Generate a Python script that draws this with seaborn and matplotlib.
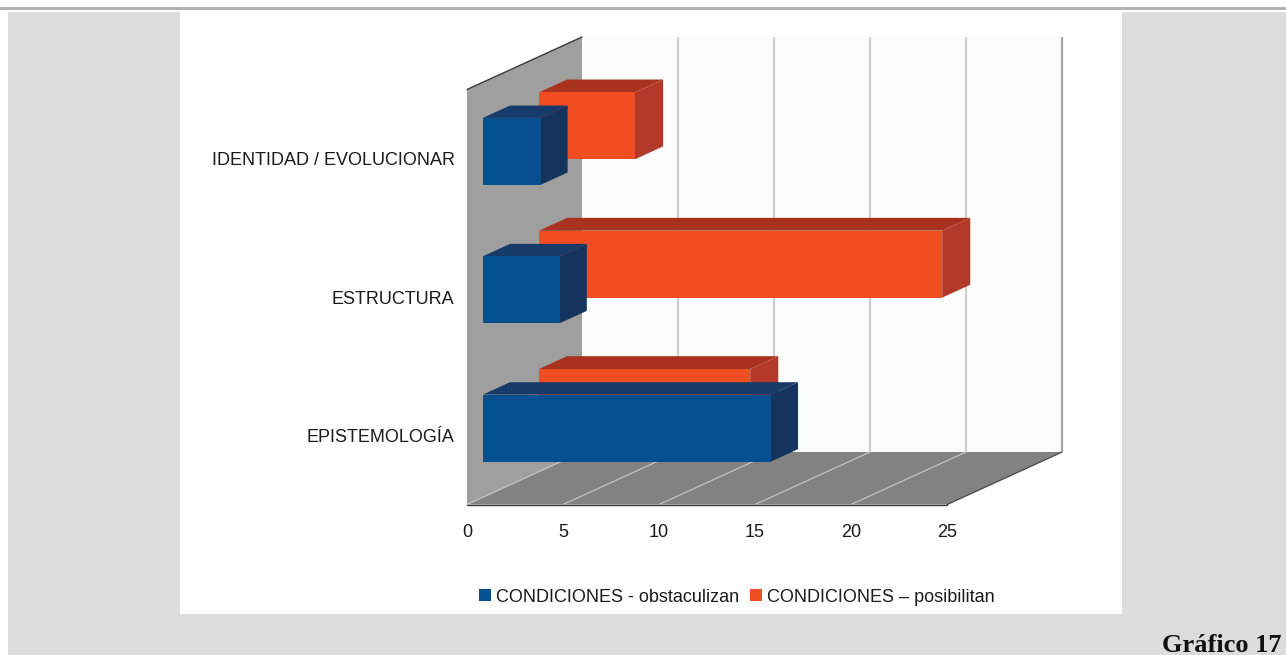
import numpy as np
import pandas as pd
import matplotlib
matplotlib.use("Agg")
import matplotlib.pyplot as plt
from matplotlib.patches import Polygon, Rectangle, Patch
from matplotlib.transforms import Affine2D
import seaborn as sns

# ---- data -------------------------------------------------------------
categorias = ["IDENTIDAD / EVOLUCIONAR", "ESTRUCTURA", "EPISTEMOLOGÍA"]
obstaculizan = [3, 4, 15]
posibilitan = [5, 21, 11]
series_names = ["CONDICIONES - obstaculizan", "CONDICIONES \u2013 posibilitan"]
x_ticks = [0, 5, 10, 15, 20, 25]

# ---- style ------------------------------------------------------------
sns.set_theme(style="white")
plt.rcParams["font.family"] = ["Liberation Sans", "DejaVu Sans"]

W, H = 1286, 655
fig = plt.figure(figsize=(W / 100, H / 100), dpi=100)
fig.patch.set_facecolor("#dcdcdc")

# page frame: white margins, rule at top, white chart panel
def px_rect(x0, y0, x1, y1, color, z=0):
    fig.add_artist(Rectangle((x0 / W, 1 - y1 / H), (x1 - x0) / W, (y1 - y0) / H,
                             transform=fig.transFigure, facecolor=color,
                             edgecolor="none", zorder=z))

px_rect(0, 0, W, 12, "#ffffff")
px_rect(0, 0, 8, H, "#ffffff")
px_rect(0, 7.5, W, 9.5, "#b4b4b4", z=1)
px_rect(180, 12, 1122, 614, "#ffffff")

fig.text(1281 / W, 1 - 652 / H, "Gráfico 17", ha="right", va="baseline",
         fontsize=19, fontweight="bold", family=["Liberation Serif", "DejaVu Serif"],
         color="#111111")

# ---- axes: x = value on front plane, y = category on front plane ------
x0_px, x25_px = 467, 947
top_px, bot_px = 89.5, 504.5
ax = fig.add_axes([x0_px / W, 1 - bot_px / H, (x25_px - x0_px) / W, (bot_px - top_px) / H])
ax.set_facecolor("none")

XMAX = 25
ppu_x = (x25_px - x0_px) / XMAX
ppu_y = (bot_px - top_px) / 3
DX = 115 / ppu_x          # depth offset in value units
DY = -52.5 / ppu_y        # depth offset in category units (axis inverted)

def P(v, c, d):
    return (v + d * DX, c + d * DY)

y_lo, y_hi = -0.5, 2.5

# left wall
ax.add_patch(Polygon([P(0, y_hi, 0), P(0, y_lo, 0), P(0, y_lo, 1), P(0, y_hi, 1)],
                     closed=True, facecolor="#9f9f9f", edgecolor="none", zorder=1, clip_on=False))
# back wall
ax.add_patch(Polygon([P(0, y_lo, 1), P(XMAX, y_lo, 1), P(XMAX, y_hi, 1), P(0, y_hi, 1)],
                     closed=True, facecolor="#fbfcfc", edgecolor="none", zorder=1, clip_on=False))
# floor
ax.add_patch(Polygon([P(0, y_hi, 0), P(XMAX, y_hi, 0), P(XMAX, y_hi, 1), P(0, y_hi, 1)],
                     closed=True, facecolor="#828282", edgecolor="none", zorder=1, clip_on=False))

# grid on back wall and floor
for v in x_ticks:
    if v > 0:
        a, b = P(v, y_lo, 1), P(v, y_hi, 1)
        ax.plot([a[0], b[0]], [a[1], b[1]], color="#a6a6a6" if v == XMAX else "#cfcfcf",
                lw=1.6, zorder=2, clip_on=False, solid_capstyle="butt")
    a, b = P(v, y_hi, 0), P(v, y_hi, 1)
    ax.plot([a[0], b[0]], [a[1], b[1]], color="#c4c4c4", lw=0.9, zorder=2, clip_on=False)

# wall / floor edges
for p, q, col in [(P(0, y_lo, 0), P(0, y_lo, 1), "#3a3a3a"),
                  (P(0, y_hi, 0), P(XMAX, y_hi, 0), "#3a3a3a"),
                  (P(XMAX, y_hi, 0), P(XMAX, y_hi, 1), "#4a4a4a")]:
    ax.plot([p[0], q[0]], [p[1], q[1]], color=col, lw=1.0, zorder=3, clip_on=False)

# ---- bars -------------------------------------------------------------
bar_h = 0.484
layers = [  # drawn back to front: (values, depth start, depth end, colours, base zorder)
    (posibilitan, 0.626, 0.870, "#f04e22", "#a9321f", "#b3392a", 4),
    (obstaculizan, 0.139, 0.374, "#06508f", "#163a69", "#14345d", 7),
]

for vals, d0, d1, c_front, c_top, c_side, z in layers:
    df = pd.DataFrame({"categoria": categorias, "valor": vals})
    n_before = len(ax.patches)
    sns.barplot(data=df, y="categoria", x="valor", order=categorias, orient="h",
                color=c_front, width=bar_h, saturation=1, linewidth=0,
                edgecolor="none", errorbar=None, ax=ax)
    shift = Affine2D().translate(d0 * DX, d0 * DY) + ax.transData
    for bar in ax.patches[n_before:]:
        bar.set_facecolor(c_front)
        bar.set_zorder(z + 1)
        bar.set_clip_on(False)
        bar.set_transform(shift)
        v = bar.get_width()
        c = bar.get_y() + bar.get_height() / 2
        ytop, ybot = c - bar_h / 2, c + bar_h / 2
        top = [P(0, ytop, d0), P(v, ytop, d0), P(v, ytop, d1), P(0, ytop, d1)]
        side = [P(v, ytop, d0), P(v, ybot, d0), P(v, ybot, d1), P(v, ytop, d1)]
        ax.add_patch(Polygon(top, closed=True, facecolor=c_top, edgecolor="none",
                             zorder=z, clip_on=False))
        ax.add_patch(Polygon(side, closed=True, facecolor=c_side, edgecolor="none",
                             zorder=z, clip_on=False))

# ---- axes dressing ----------------------------------------------------
ax.set_xlim(0, XMAX)
ax.set_ylim(y_hi, y_lo)
ax.set_xticks(x_ticks)
ax.set_xticklabels([str(t) for t in x_ticks])
ax.set_yticks(range(len(categorias)))
ax.set_yticklabels(categorias)
ax.set_xlabel("")
ax.set_ylabel("")
for s in ax.spines.values():
    s.set_visible(False)
ax.tick_params(axis="x", length=0, pad=14, labelsize=13, labelcolor="#1a1a1a")
ax.tick_params(axis="y", length=0, pad=9, labelsize=13, labelcolor="#1a1a1a")
ax.grid(False)
if ax.get_legend() is not None:
    ax.get_legend().remove()

handles = [Patch(facecolor="#06508f", edgecolor="none", label=series_names[0]),
           Patch(facecolor="#f04e22", edgecolor="none", label=series_names[1])]
fig.legend(handles=handles, loc="center", bbox_to_anchor=(737 / W, 1 - 597 / H),
           ncol=2, frameon=False, fontsize=13, handlelength=0.65, handleheight=0.65,
           handletextpad=0.3, columnspacing=0.6, labelcolor="#1a1a1a")

fig.savefig("out.png", dpi=100, facecolor=fig.get_facecolor())
